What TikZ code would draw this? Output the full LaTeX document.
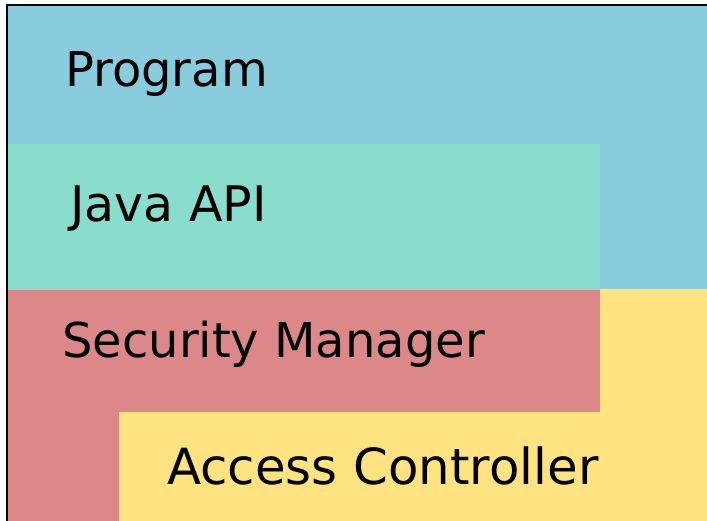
\documentclass[tikz,border=0pt]{standalone}
\usepackage{fontspec}
\setmainfont{DejaVu Sans}
\definecolor{progblue}{HTML}{88CCDD}
\definecolor{apigreen}{HTML}{88DDCC}
\definecolor{secred}{HTML}{DD8888}
\definecolor{accyellow}{HTML}{FFE380}
\tikzset{
  layerlabel/.style={anchor=base west, inner sep=0pt, text=black,
    font=\fontsize{48}{58}\selectfont}
}
\begin{document}
\begin{tikzpicture}[x=1pt,y=-1pt]
  \useasboundingbox (0,0) rectangle (707,521);
  \fill[white] (0,0) rectangle (707,521);
  \clip (0,0) rectangle (707,521);
  % layers
  \fill[progblue] (7,5) rectangle (720,290);
  \fill[apigreen] (7,144) rectangle (600,290);
  \fill[secred] (7,290) rectangle (600,530);
  \fill[accyellow] (600,289) -- (720,289) -- (720,530) -- (119,530)
    -- (119,412) -- (600,412) -- cycle;
  % outer frame (only left and top edges fall inside the page)
  \draw[black, line width=2pt] (7,5) rectangle (730,540);
  % labels
  \node[layerlabel] (program) at (65,87) {Program};
  \node[layerlabel, font=\fontsize{49}{58}\selectfont] (javaapi) at (70,222) {Java API};
  \node[layerlabel] (secman) at (62,357) {Security Manager};
  \node[layerlabel, font=\fontsize{49.8}{58}\selectfont] (accctl) at (167,484) {Access Controller};
\end{tikzpicture}
\end{document}
